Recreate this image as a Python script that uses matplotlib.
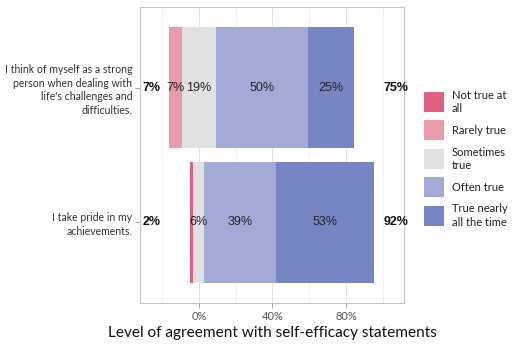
import matplotlib
matplotlib.use("Agg")
import matplotlib.pyplot as plt
from matplotlib.patches import Rectangle
import numpy as np

# Survey data (percent of respondents)
statements = [
    "I think of myself as a strong\nperson when dealing with\nlife's challenges and\ndifficulties.",
    "I take pride in my\nachievements.",
]
categories = ["Not true at\nall", "Rarely true", "Sometimes\ntrue", "Often true", "True nearly\nall the time"]
not_true = [0, 2]
rarely_true = [7, 0]
sometimes_true = [19, 6]
often_true = [50, 39]
nearly_always = [25, 53]
left_totals = [7, 2]
right_totals = [75, 92]
x_ticks = [0, 40, 80]
x_tick_labels = ["0%", "40%", "80%"]

colors = ["#E0607F", "#E99AAB", "#E1E1E1", "#A3AAD8", "#7785C5"]

W, H = 517, 345
fig = plt.figure(figsize=(W / 100, H / 100), dpi=100)
ax = fig.add_axes([140 / W, 1 - 303 / H, (404 - 140) / W, (303 - 7) / H])

ui_font = "Lato"
num_font = "Liberation Sans"

y = np.arange(len(statements))  # 0 = top statement
bar_h = 0.9

for i in range(len(statements)):
    neutral_half = sometimes_true[i] / 2
    # left side: negative categories stacked outward from the neutral half
    segs = [
        (-neutral_half - rarely_true[i] - not_true[i], not_true[i], 0),
        (-neutral_half - rarely_true[i], rarely_true[i], 1),
        (-neutral_half, sometimes_true[i], 2),
        (neutral_half, often_true[i], 3),
        (neutral_half + often_true[i], nearly_always[i], 4),
    ]
    for start, width, ci in segs:
        if width <= 0:
            continue
        ax.barh(y[i], width, left=start, height=bar_h, color=colors[ci], linewidth=0, zorder=2)
        if width >= 5:
            ax.text(start + width / 2, y[i], f"{width}%", ha="center", va="center",
                    fontsize=9, family=num_font, color="#222222", zorder=3)
    ax.text(-26, y[i], f"{left_totals[i]}%", ha="center", va="center", fontsize=9,
            family=num_font, fontweight="bold", color="#111111", zorder=3)
    ax.text(107.5, y[i], f"{right_totals[i]}%", ha="center", va="center", fontsize=9,
            family=num_font, fontweight="bold", color="#111111", zorder=3)

ax.set_xlim(-32.1, 111.6)
ax.set_ylim(len(statements) - 0.4, -0.6)

ax.set_xticks(x_ticks)
ax.set_xticklabels(x_tick_labels, family=ui_font, fontsize=8, color="#555555")
ax.set_xticks([-20, 20, 60, 100], minor=True)
ax.set_yticks(y)
ax.set_yticklabels(statements, family=ui_font, fontsize=7.6, color="#333333", linespacing=1.3)
ax.tick_params(axis="both", which="major", length=3.5, width=0.6, color="#999999", pad=2)
ax.tick_params(axis="x", which="minor", length=0)

ax.grid(True, which="major", axis="x", color="#E2E2E2", linewidth=0.7, zorder=0)
ax.grid(True, which="minor", axis="x", color="#EFEFEF", linewidth=0.6, zorder=0)
ax.set_axisbelow(True)
for s in ax.spines.values():
    s.set_color("#C4C4C4")
    s.set_linewidth(0.8)

ax.set_xlabel("Level of agreement with self-efficacy statements", family=ui_font,
              fontsize=11.1, color="#111111", labelpad=3)

# Legend drawn in figure pixel space
lax = fig.add_axes([0, 0, 1, 1])
lax.set_xlim(0, W)
lax.set_ylim(H, 0)
lax.axis("off")
key_top = 92
pitch = 28.4
for k, (lab, col) in enumerate(zip(categories, colors)):
    top = key_top + k * pitch
    lax.add_patch(Rectangle((424, top), 19.5, 20, facecolor=col, edgecolor="none"))
    lax.text(452, top + 10, lab, ha="left", va="center", fontsize=8, family=ui_font,
             color="#222222", linespacing=1.25)

fig.savefig("out.png", dpi=100)
